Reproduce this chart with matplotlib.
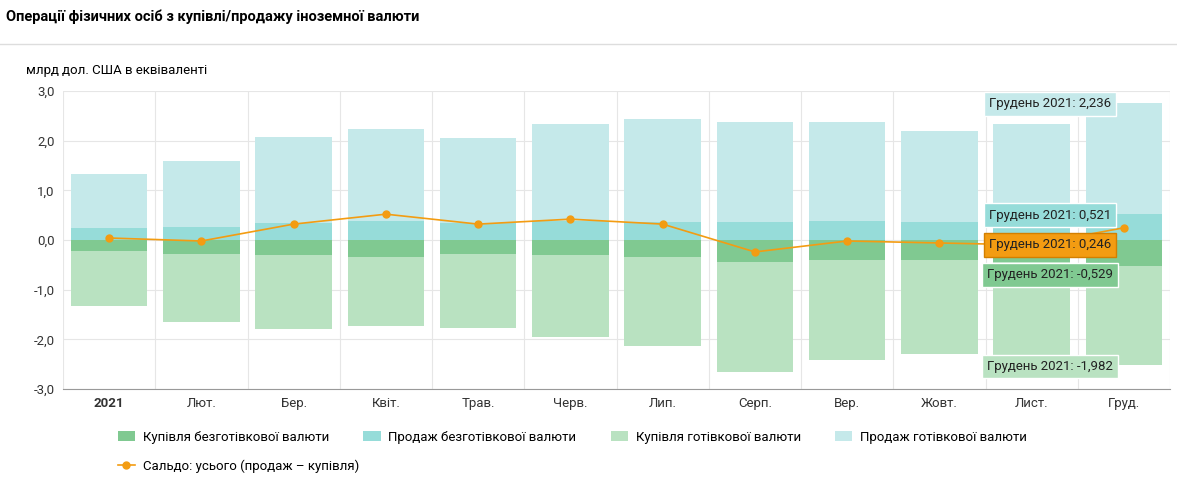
import matplotlib
matplotlib.use("Agg")
import matplotlib.pyplot as plt
import numpy as np

plt.rcParams['font.family'] = 'Roboto'

months = ["2021", "Лют.", "Бер.", "Квіт.", "Трав.", "Черв.", "Лип.", "Серп.", "Вер.", "Жовт.", "Лист.", "Груд."]
noncash_sale = [0.24, 0.26, 0.34, 0.38, 0.34, 0.38, 0.36, 0.36, 0.38, 0.36, 0.40, 0.521]
cash_sale = [1.09, 1.33, 1.73, 1.85, 1.71, 1.96, 2.08, 2.02, 2.00, 1.83, 1.94, 2.236]
noncash_buy = [-0.22, -0.28, -0.30, -0.34, -0.28, -0.30, -0.34, -0.44, -0.40, -0.40, -0.45, -0.529]
cash_buy = [-1.11, -1.37, -1.49, -1.39, -1.49, -1.65, -1.79, -2.22, -2.02, -1.90, -2.05, -1.982]
saldo = [0.04, -0.02, 0.32, 0.52, 0.32, 0.42, 0.32, -0.24, -0.02, -0.06, -0.10, 0.246]

c_ncb, c_cb, c_ncs, c_cs = "#80c991", "#b9e2c1", "#96dcd9", "#c5e9ea"
c_line = "#f39c12"

fig = plt.figure(figsize=(11.77, 4.84), dpi=100)
fig.text(0.005, 0.965, "Операції фізичних осіб з купівлі/продажу іноземної валюти",
         fontsize=10.5, fontweight='bold', va='center')
fig.add_artist(plt.Line2D([0, 1], [0.91, 0.91], color="#dddddd", lw=1))
fig.text(0.022, 0.855, "млрд дол. США в еквіваленті", fontsize=9.5, va='center')

ax = fig.add_axes([63/1177, 1-389/484, (1170-63)/1177, 298/484])
x = np.arange(len(months))
w = 0.83
b1 = ax.bar(x, noncash_buy, w, color=c_ncb, label="Купівля безготівкової валюти", zorder=2)
b2 = ax.bar(x, cash_buy, w, bottom=noncash_buy, color=c_cb, label="Купівля готівкової валюти", zorder=2)
b3 = ax.bar(x, noncash_sale, w, color=c_ncs, label="Продаж безготівкової валюти", zorder=2)
b4 = ax.bar(x, cash_sale, w, bottom=noncash_sale, color=c_cs, label="Продаж готівкової валюти", zorder=2)
ln, = ax.plot(x, saldo, color=c_line, marker='o', ms=5, lw=1.2, zorder=4,
              label="Сальдо: усього (продаж – купівля)")

ax.set_xlim(-0.5, len(months)-0.5)
ax.set_ylim(-3, 3)
ax.set_yticks(np.arange(-3, 3.1, 1))
ax.set_yticklabels([f"{v:.1f}".replace(".", ",") for v in np.arange(-3, 3.1, 1)], fontsize=9.5, color="#333")
ax.set_xticks(x)
ax.set_xticklabels(months, fontsize=9.5, color="#333")
ax.get_xticklabels()[0].set_fontweight('bold')
ax.tick_params(length=0, pad=6)
for v in np.arange(-3, 3.1, 1):
    ax.axhline(v, color="#e6e6e6", lw=0.8, zorder=0)
for b in np.arange(-0.5, len(months), 1):
    ax.axvline(b, color="#e6e6e6", lw=0.8, zorder=0)
for s in ax.spines.values():
    s.set_visible(False)
ax.spines['bottom'].set_visible(True)
ax.spines['bottom'].set_color("#999")

def tip(y, txt, fc, ec, tc="#222"):
    ax.text(10.2, y, txt, fontsize=9.5, color=tc, ha='center', va='center',
            bbox=dict(boxstyle="square,pad=0.4", fc=fc, ec=ec, lw=1), zorder=6)

tip(2.74, "Грудень 2021: 2,236", "#c5e9ea", "white")
tip(0.50, "Грудень 2021: 0,521", "#96dcd9", "white")
tip(-0.10, "Грудень 2021: 0,246", "#f39c12", "#d37f00")
tip(-0.70, "Грудень 2021: -0,529", "#80c991", "white")
tip(-2.55, "Грудень 2021: -1,982", "#b9e2c1", "white")

fig.legend([b1, b3, b2, b4], [b1.get_label(), b3.get_label(), b2.get_label(), b4.get_label()],
           loc='upper left', bbox_to_anchor=(0.09, 0.135), ncol=4, frameon=False, fontsize=9.5,
           handlelength=1.3, columnspacing=2.6, handletextpad=0.6)
fig.legend([ln], [ln.get_label()], loc='upper left', bbox_to_anchor=(0.09, 0.075),
           frameon=False, fontsize=9.5, handlelength=1.3, handletextpad=0.6)
fig.savefig("out.png", dpi=100)
